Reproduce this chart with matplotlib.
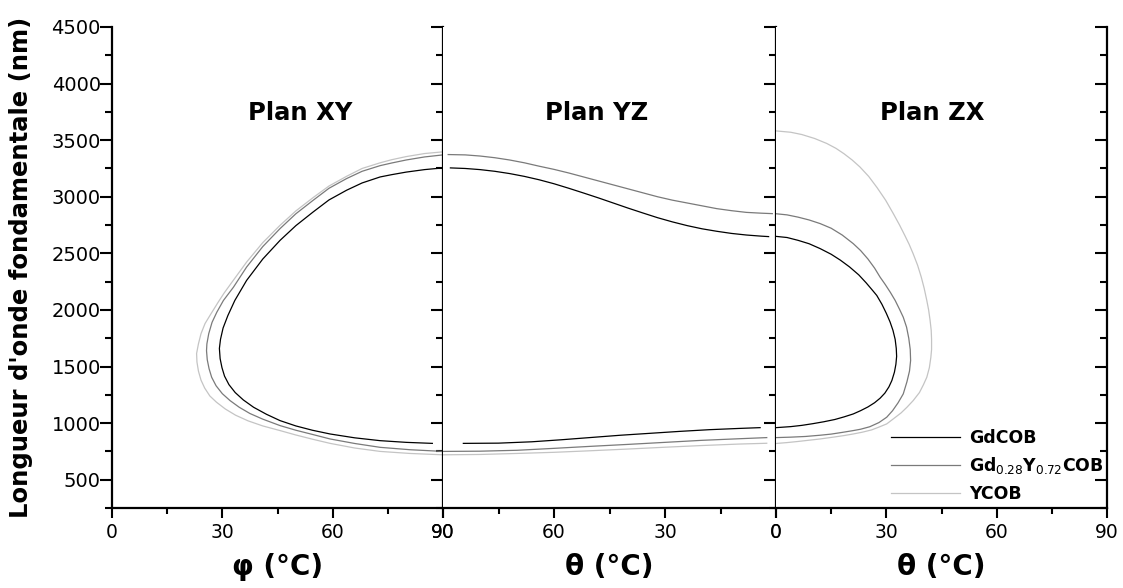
import matplotlib
matplotlib.use('Agg')
import matplotlib.pyplot as plt
from matplotlib.ticker import MultipleLocator

plt.rcParams['font.family'] = ['DejaVu Sans']

# ---- Plan XY (phi, lambda)
xy_gd_phi = [90, 85, 80, 76, 72.9, 68, 63.8, 59, 54.7, 50, 45.7, 41, 36.6, 33.4, 31.5, 30.2, 29.5, 29.2, 29.4, 29.9, 30.6, 31.8, 33.5, 35.7, 38.5, 42, 45.7, 50, 54.5, 59.3, 66, 72.9, 80, 87.1]
xy_gd_lam = [3255, 3240, 3218, 3195, 3175, 3122, 3058, 2972, 2866, 2745, 2615, 2450, 2261, 2084, 1950, 1840, 1740, 1660, 1570, 1490, 1415, 1340, 1270, 1205, 1140, 1078, 1022, 975, 937, 904, 870, 845, 830, 821]
xy_mix_phi = [90, 85, 80, 76, 72.9, 68, 63.8, 59, 54.7, 50, 45.7, 41, 36.6, 33, 30.3, 28.5, 27.2, 26.3, 25.8, 25.7, 25.9, 26.4, 27.1, 28.3, 30, 32.1, 34.6, 37.5, 41, 45.7, 50, 54.5, 59.3, 66, 72.9, 81, 90]
xy_mix_lam = [3370, 3352, 3325, 3298, 3275, 3225, 3161, 3075, 2969, 2850, 2719, 2560, 2379, 2200, 2084, 1980, 1890, 1790, 1700, 1640, 1560, 1480, 1405, 1330, 1260, 1199, 1140, 1085, 1035, 978, 937, 900, 860, 820, 786, 765, 750]
xy_y_phi = [90, 85, 80, 76, 72.9, 68, 63.8, 59, 54.7, 50, 45.7, 41, 36.6, 32.5, 30.5, 28.8, 26.8, 25.3, 24.2, 23.5, 23.0, 23.1, 23.5, 24.2, 25.2, 26.6, 28.4, 30.8, 33.6, 37, 41, 45.7, 50, 54.5, 59.3, 66, 72.9, 81, 90]
xy_y_lam = [3397, 3382, 3355, 3327, 3300, 3250, 3181, 3095, 2993, 2875, 2748, 2595, 2423, 2240, 2150, 2065, 1960, 1880, 1790, 1700, 1615, 1540, 1460, 1380, 1310, 1240, 1185, 1125, 1070, 1020, 975, 934, 895, 858, 821, 780, 750, 732, 720]

# ---- Plan YZ (theta, lambda), upper and lower branches
yz_gd_top_th = [88, 84, 80, 76, 72, 68, 64, 60, 56, 52, 48, 44, 40, 36, 32, 28, 24, 20, 16, 12, 8, 4, 2]
yz_gd_top_lam = [3255, 3250, 3240, 3225, 3205, 3180, 3150, 3115, 3075, 3033, 2990, 2945, 2900, 2857, 2815, 2778, 2745, 2717, 2695, 2676, 2662, 2652, 2648]
yz_mix_top_th = [88.6, 84, 80, 76, 72, 68, 64, 60, 56, 52, 48, 44, 40, 36, 32, 28, 24, 20, 16, 12, 8, 4, 1]
yz_mix_top_lam = [3373, 3370, 3360, 3345, 3325, 3300, 3270, 3242, 3210, 3175, 3140, 3105, 3070, 3035, 3000, 2970, 2945, 2920, 2895, 2877, 2862, 2855, 2851]
yz_gd_bot_th = [84.5, 75, 66, 58, 50, 42, 34, 26, 18, 10, 4.3]
yz_gd_bot_lam = [821, 823, 835, 853, 873, 893, 910, 927, 942, 953, 960]
yz_mix_bot_th = [90, 80, 70, 60, 50, 40, 30, 20, 10, 2.5]
yz_mix_bot_lam = [750, 752, 760, 777, 795, 812, 830, 848, 862, 872]
yz_y_bot_th = [90, 80, 70, 60, 50, 40, 30, 20, 10, 2.5]
yz_y_bot_lam = [720, 723, 732, 742, 756, 771, 787, 802, 815, 822]

# ---- Plan ZX (theta, lambda)
zx_gd_th = [0, 3, 6, 9, 12, 15, 17.5, 20, 22.5, 24.5, 26.2, 27.4, 28.8, 30, 31, 31.8, 32.4, 32.7, 32.8, 32.6, 32.2, 31.5, 30.7, 29.6, 28.3, 26.8, 25, 23, 21, 18.5, 16, 13, 10, 7, 4, 0]
zx_gd_lam = [2650, 2640, 2615, 2585, 2542, 2492, 2440, 2380, 2310, 2240, 2175, 2128, 2050, 1970, 1895, 1820, 1740, 1660, 1590, 1520, 1450, 1376, 1320, 1265, 1220, 1180, 1143, 1110, 1081, 1055, 1032, 1012, 995, 980, 969, 960]
zx_mix_th = [0, 3, 6, 9, 12, 15, 18, 21, 23, 25, 26.8, 28.3, 29.7, 31.1, 32.4, 33.6, 34.6, 35.5, 36.1, 36.5, 36.6, 36.3, 35.6, 34.6, 33.2, 31.7, 30.1, 28, 25.5, 23, 21, 18, 15, 12, 8, 4, 0]
zx_mix_lam = [2850, 2840, 2820, 2795, 2763, 2722, 2662, 2586, 2525, 2450, 2370, 2290, 2225, 2155, 2084, 2005, 1936, 1848, 1750, 1650, 1553, 1460, 1365, 1258, 1180, 1110, 1052, 1005, 968, 946, 934, 918, 903, 893, 882, 876, 872]
zx_y_th = [0, 4, 7, 10.5, 13.8, 16.3, 18.5, 20.7, 22.8, 25.2, 27.5, 29.8, 31.9, 33.6, 35, 36.2, 37.3, 38.5, 39.5, 40.3, 41, 41.5, 41.9, 42.2, 42.3, 42.3, 42.1, 41.7, 41, 40.1, 39, 37.3, 35.6, 34, 32, 30.1, 28, 26, 23.5, 21, 18.5, 16, 12, 9, 6, 3, 0]
zx_y_lam = [3582, 3570, 3550, 3515, 3471, 3428, 3380, 3325, 3264, 3180, 3080, 2970, 2851, 2750, 2660, 2580, 2496, 2395, 2290, 2190, 2084, 2000, 1907, 1820, 1740, 1650, 1580, 1490, 1405, 1340, 1270, 1199, 1140, 1090, 1040, 993, 965, 940, 920, 904, 890, 878, 860, 849, 838, 828, 820]

labels = ['GdCOB', r'Gd$_{0.28}$Y$_{0.72}$COB', 'YCOB']
colors = ['#000000', '#7a7a7a', '#c4c4c4']
lw = 0.9

fig = plt.figure(figsize=(11.23, 5.88), dpi=100)
W, H = 1123, 588
bottom = (H - 508) / H
height = (508 - 27) / H
ax1 = fig.add_axes([112 / W, bottom, (443 - 112) / W, height])
ax2 = fig.add_axes([443 / W, bottom, (776 - 443) / W, height])
ax3 = fig.add_axes([776 / W, bottom, (1107 - 776) / W, height])

ax1.plot(xy_y_phi, xy_y_lam, color=colors[2], lw=lw)
ax1.plot(xy_mix_phi, xy_mix_lam, color=colors[1], lw=lw)
ax1.plot(xy_gd_phi, xy_gd_lam, color=colors[0], lw=lw)

ax2.plot(yz_y_bot_th, yz_y_bot_lam, color=colors[2], lw=lw)
ax2.plot(yz_mix_top_th, yz_mix_top_lam, color=colors[1], lw=lw)
ax2.plot(yz_mix_bot_th, yz_mix_bot_lam, color=colors[1], lw=lw)
ax2.plot(yz_gd_top_th, yz_gd_top_lam, color=colors[0], lw=lw)
ax2.plot(yz_gd_bot_th, yz_gd_bot_lam, color=colors[0], lw=lw)

l3 = ax3.plot(zx_y_th, zx_y_lam, color=colors[2], lw=lw)
l2 = ax3.plot(zx_mix_th, zx_mix_lam, color=colors[1], lw=lw)
l1 = ax3.plot(zx_gd_th, zx_gd_lam, color=colors[0], lw=lw)

titles = ['Plan XY', 'Plan YZ', 'Plan ZX']
tx = [0.568, 0.462, 0.471]
xlabels = ['φ (°C)', 'θ (°C)', 'θ (°C)']
for i, ax in enumerate([ax1, ax2, ax3]):
    ax.set_ylim(250, 4500)
    ax.set_xticks([0, 30, 60, 90])
    ax.xaxis.set_minor_locator(MultipleLocator(15))
    ax.yaxis.set_major_locator(MultipleLocator(500))
    ax.yaxis.set_minor_locator(MultipleLocator(250))
    for s in ax.spines.values():
        s.set_linewidth(1.6)
    ax.spines['top'].set_visible(False)
    ax.tick_params(axis='x', which='major', direction='out', length=7, width=1.5, labelsize=13.5)
    ax.tick_params(axis='x', which='minor', direction='out', length=4, width=1.5)
    ax.tick_params(axis='y', which='both', right=True, direction='in', width=1.5)
    ax.tick_params(axis='y', which='major', length=9)
    ax.tick_params(axis='y', which='minor', length=5)
    ax.text(tx[i], 0.821, titles[i], transform=ax.transAxes, ha='center', va='center',
            fontsize=17.5, fontweight='bold')
    ax.set_xlabel(xlabels[i], fontsize=20, fontweight='bold', labelpad=8)

ax1.set_xlim(0, 90)
ax2.set_xlim(90, 0)
ax3.set_xlim(0, 90)

ax1.set_yticks([500, 1000, 1500, 2000, 2500, 3000, 3500, 4000, 4500])
ax1.tick_params(axis='y', which='both', left=True, labelleft=True)
ax1.tick_params(axis='y', which='major', labelsize=14, pad=8)
# left ticks of first panel point outward
for t in ax1.yaxis.get_major_ticks() + ax1.yaxis.get_minor_ticks():
    t.tick1line.set_marker(matplotlib.lines.TICKLEFT)
ax1.set_ylabel("Longueur d'onde fondamentale (nm)", fontsize=17.5, fontweight='bold')
ax1.yaxis.set_label_coords(-0.238, 0.5)

for ax in [ax2, ax3]:
    ax.spines['left'].set_visible(False)
    ax.tick_params(axis='y', which='both', left=False, labelleft=False)

ax3.legend([l1[0], l2[0], l3[0]], labels, loc='lower right', bbox_to_anchor=(1.01, -0.004),
           frameon=False, prop={'weight': 'bold', 'size': 12.5}, handlelength=4.0,
           handletextpad=0.5, labelspacing=0.5, borderaxespad=0)

fig.savefig('out.png', dpi=100)
